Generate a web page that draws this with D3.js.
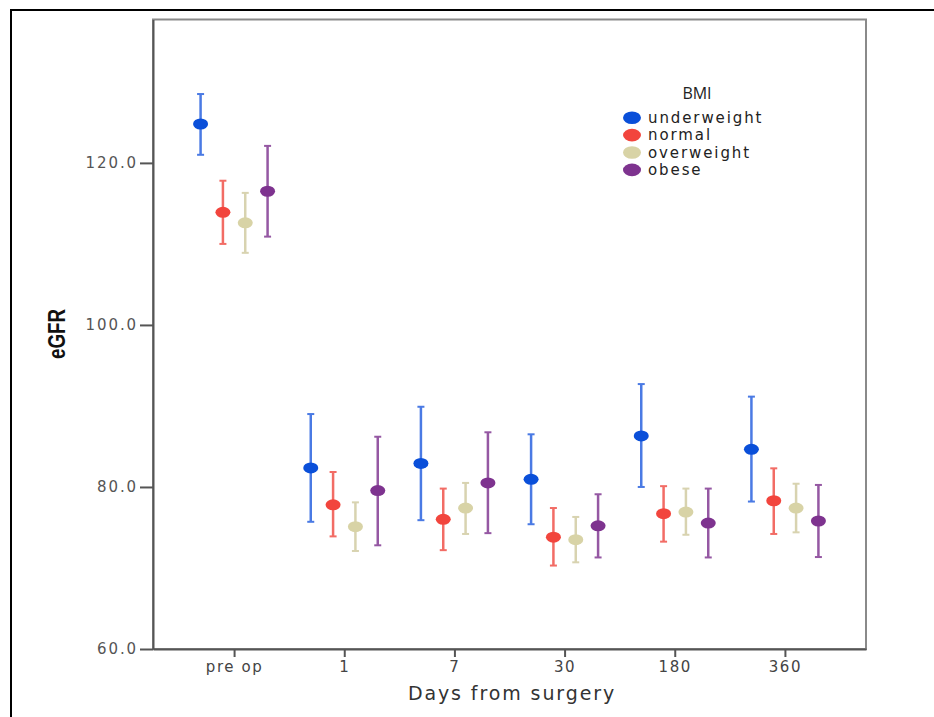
<!doctype html>
<html lang="en">
<head>
    <meta charset="UTF-8">
    <title>eGFR by BMI</title>
    <style>
        body { margin: 0; background: #fff; }
        #chart text { font-family: "DejaVu Sans", sans-serif; }
    </style>
</head>
<body>
<svg id="chart" width="934" height="717"></svg>

<script src="https://cdn.jsdelivr.net/npm/d3@7"></script>
<script>
    var days = ["pre op", "1", "7", "30", "180", "360"]
    var groups = ["underweight", "normal", "overweight", "obese"]
    var yTicks = [60, 80, 100, 120]

    var underweightMean = [124.8, 82.35, 82.9, 80.95, 86.3, 84.65]
    var underweightLow = [121.0, 75.7, 75.9, 75.4, 80.0, 78.2]
    var underweightHigh = [128.5, 89.0, 89.9, 86.5, 92.7, 91.15]

    var normalMean = [113.9, 77.8, 76.0, 73.8, 76.7, 78.3]
    var normalLow = [110.0, 73.9, 72.2, 70.3, 73.25, 74.2]
    var normalHigh = [117.8, 81.85, 79.8, 77.4, 80.1, 82.3]

    var overweightMean = [112.6, 75.1, 77.4, 73.5, 76.9, 77.4]
    var overweightLow = [108.9, 72.1, 74.2, 70.7, 74.1, 74.4]
    var overweightHigh = [116.3, 78.1, 80.5, 76.3, 79.8, 80.4]

    var obeseMean = [116.5, 79.55, 80.5, 75.2, 75.55, 75.8]
    var obeseLow = [110.9, 72.8, 74.3, 71.3, 71.3, 71.35]
    var obeseHigh = [122.1, 86.2, 86.75, 79.1, 79.8, 80.25]

    var dotColor = { underweight: "#0a4fd9", normal: "#f2453d", overweight: "#d8d3a6", obese: "#7e338f" }
    var barColor = { underweight: "#4a7ae4", normal: "#f26c65", overweight: "#d8d3b0", obese: "#9558a3" }

    var series = [
        { name: "underweight", mean: underweightMean, low: underweightLow, high: underweightHigh },
        { name: "normal", mean: normalMean, low: normalLow, high: normalHigh },
        { name: "overweight", mean: overweightMean, low: overweightLow, high: overweightHigh },
        { name: "obese", mean: obeseMean, low: obeseLow, high: obeseHigh }
    ]

    var plotLeft = 153, plotRight = 866, plotTop = 19.5, plotBottom = 649

    var x = d3.scalePoint().domain(days).range([plotLeft, plotRight]).padding(0.736)
    var dx = d3.scalePoint().domain(groups).range([-33.5, 33.5])
    var y = d3.scaleLinear().domain([60, 137.7]).range([plotBottom, plotTop])

    var svg = d3.select('#chart')

    // outer frame (cut on the right and bottom)
    svg.append('path')
        .attr('d', 'M11,730 L11,10 L940,10')
        .attr('fill', 'none')
        .attr('stroke', '#000')
        .attr('stroke-width', 2)

    // plot box
    svg.append('rect')
        .attr('x', plotLeft).attr('y', plotTop)
        .attr('width', plotRight - plotLeft).attr('height', plotBottom - plotTop)
        .attr('fill', 'none')
        .attr('stroke', '#8a8a8a')
        .attr('stroke-width', 2)

    var yAxis = svg.append('g')
        .attr('transform', 'translate(' + plotLeft + ',0)')
        .call(d3.axisLeft(y).tickValues(yTicks).tickFormat(d3.format('.1f')).tickSize(13).tickSizeOuter(0).tickPadding(2))
    yAxis.select('.domain').attr('stroke', '#555').attr('stroke-width', 2)
    yAxis.selectAll('.tick line').attr('stroke', '#555').attr('stroke-width', 2)
    yAxis.selectAll('.tick text')
        .attr('fill', '#555')
        .attr('font-size', 15)
        .attr('letter-spacing', 1.9)
        .style('font-family', '"DejaVu Sans", sans-serif')

    var xAxis = svg.append('g')
        .attr('transform', 'translate(0,' + plotBottom + ')')
        .call(d3.axisBottom(x).tickSize(8).tickSizeOuter(0).tickPadding(4))
    xAxis.select('.domain').attr('stroke', '#555').attr('stroke-width', 2)
    xAxis.selectAll('.tick line').attr('stroke', '#555').attr('stroke-width', 2)
    xAxis.selectAll('.tick text')
        .attr('fill', '#444')
        .attr('font-size', 15)
        .attr('letter-spacing', 1.6)
        .style('font-family', '"DejaVu Sans", sans-serif')

    svg.append('text')
        .attr('x', 512).attr('y', 700)
        .attr('text-anchor', 'middle')
        .attr('font-size', 19)
        .attr('letter-spacing', 1.9)
        .attr('fill', '#333')
        .text('Days from surgery')

    svg.append('text')
        .attr('transform', 'translate(65,334) rotate(-90)')
        .attr('text-anchor', 'middle')
        .attr('font-size', 23)
        .attr('font-weight', 'bold')
        .attr('fill', '#111')
        .attr('textLength', 50)
        .attr('lengthAdjust', 'spacingAndGlyphs')
        .style('font-family', '"Liberation Sans Narrow", "Liberation Sans", sans-serif')
        .text('eGFR')

    // error bars and means
    var g = svg.append('g').selectAll('g')
        .data(series).enter().append('g')

    g.each(function(s) {
        var sel = d3.select(this)
        days.forEach(function(d, i) {
            var cx = x(d) + dx(s.name)
            sel.append('line')
                .attr('x1', cx).attr('x2', cx)
                .attr('y1', y(s.low[i])).attr('y2', y(s.high[i]))
                .attr('stroke', barColor[s.name]).attr('stroke-width', 2.5)
            sel.append('line')
                .attr('x1', cx - 3.5).attr('x2', cx + 3.5)
                .attr('y1', y(s.high[i])).attr('y2', y(s.high[i]))
                .attr('stroke', barColor[s.name]).attr('stroke-width', 2)
            sel.append('line')
                .attr('x1', cx - 3.5).attr('x2', cx + 3.5)
                .attr('y1', y(s.low[i])).attr('y2', y(s.low[i]))
                .attr('stroke', barColor[s.name]).attr('stroke-width', 2)
            sel.append('ellipse')
                .attr('cx', cx).attr('cy', y(s.mean[i]))
                .attr('rx', 7.5).attr('ry', 5.5)
                .attr('fill', dotColor[s.name])
        })
    })

    // legend
    var legend = svg.append('g')
    legend.append('text')
        .attr('x', 697).attr('y', 99)
        .attr('text-anchor', 'middle')
        .attr('font-size', 16)
        .attr('fill', '#222')
        .style('font-family', '"Open Sans", sans-serif')
        .text('BMI')

    var item = legend.selectAll('.item')
        .data(groups).enter().append('g')
        .attr('transform', function(d, i) { return 'translate(632,' + (117.7 + i * 17.4) + ')' })
    item.append('ellipse')
        .attr('rx', 9).attr('ry', 6.3)
        .attr('fill', function(d) { return dotColor[d] })
    item.append('text')
        .attr('x', 16).attr('y', 5)
        .attr('font-size', 15)
        .attr('letter-spacing', 1.9)
        .attr('fill', '#222')
        .text(function(d) { return d })
</script>
</body>
</html>
